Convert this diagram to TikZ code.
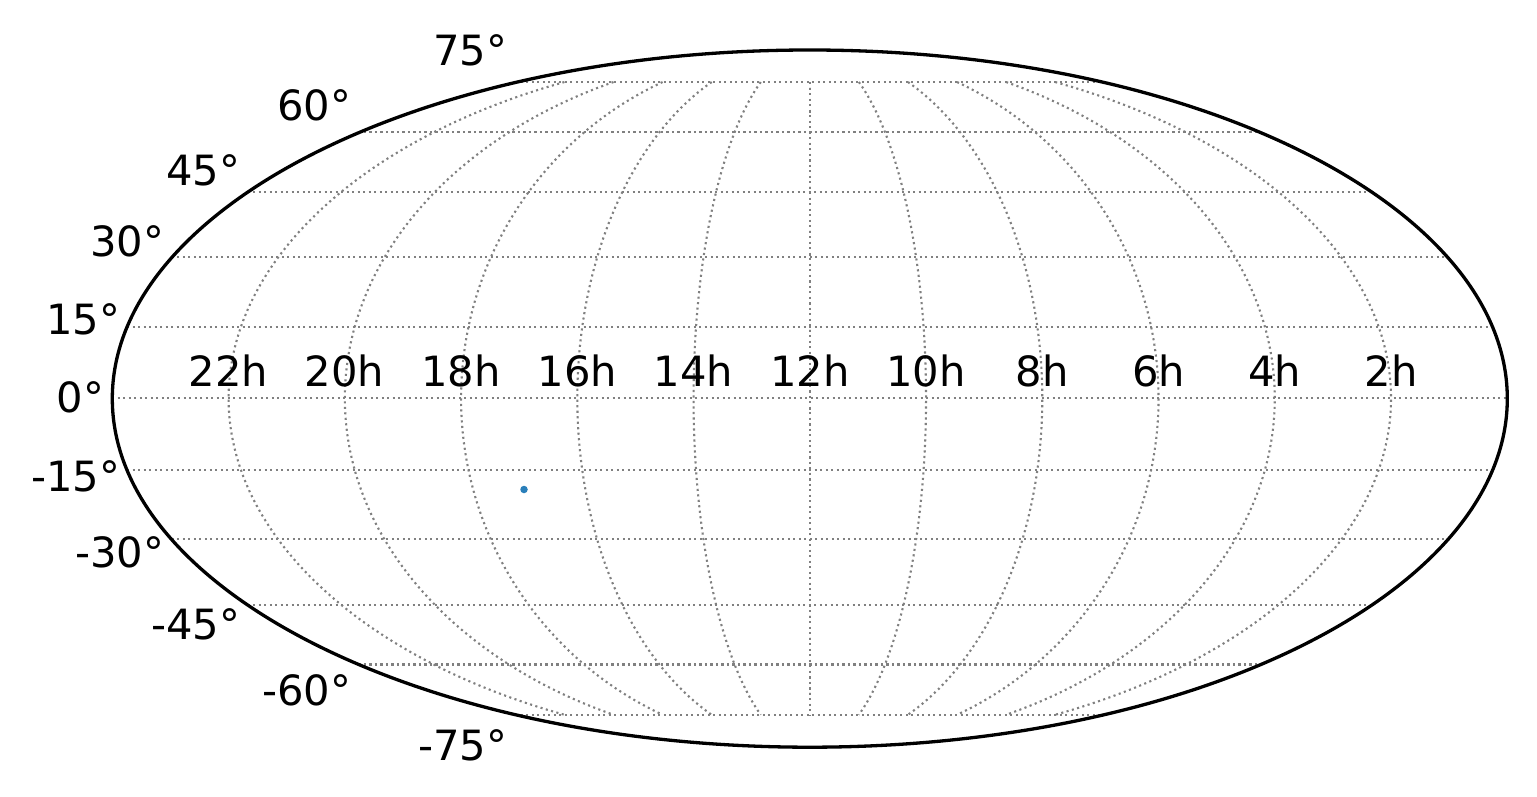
\documentclass[tikz,border=0pt]{standalone}
\usepackage{fontspec}
\setmainfont{DejaVu Sans}
\newcommand{\CX}{809.8}
\newcommand{\CY}{398.4}
\newcommand{\RA}{697.5}
\newcommand{\RB}{349}
\newcommand{\TMAX}{65.03}
\tikzset{
  frameline/.style={draw=black,line width=3.3pt},
  gridline/.style={draw=gridgray,line width=2.1pt,dash pattern=on 2.1pt off 3.4pt},
  ticklabel/.style={inner sep=0pt,font=\fontsize{41.67}{50}\selectfont},
  rightlabel/.style={ticklabel,anchor=east},
  lonlabel/.style={ticklabel,anchor=base},
  datapoint/.style={fill=dotblue,draw=none,circle,minimum size=7.5pt,inner sep=0pt}
}
\definecolor{gridgray}{HTML}{808080}
\definecolor{dotblue}{HTML}{2A7FBA}
\begin{document}
\begin{tikzpicture}[x=1pt,y=-1pt]
\useasboundingbox (0,0) rectangle (1537,797);
% parallels: sin(theta) values for 15..75 deg
\foreach \s in {0,0.2047,0.4040,0.5920,0.7624,0.9065}{
  \draw[gridline] ({\CX-\RA*sqrt(1-\s*\s)},{\CY-\RB*\s}) -- ({\CX+\RA*sqrt(1-\s*\s)},{\CY-\RB*\s});
  \draw[gridline] ({\CX-\RA*sqrt(1-\s*\s)},{\CY+\RB*\s}) -- ({\CX+\RA*sqrt(1-\s*\s)},{\CY+\RB*\s});
}
% meridians
\foreach \k in {-5,...,5}{
  \draw[gridline] plot[domain=-\TMAX:\TMAX,samples=61,smooth,variable=\t] ({\CX+\RA*\k/6*cos(\t)},{\CY+\RB*sin(\t)});
}
\draw[frameline] (\CX,\CY+0.2) ellipse [x radius=\RA,y radius=\RB-0.4];
\node[datapoint] (p) at (524,489.5) {};
\foreach \lab/\xx in {22h/228.5,20h/344.5,18h/461,16h/577.5,14h/693.5,12h/810,10h/926,8h/1042,6h/1158.5,4h/1274.5,2h/1391}{
  \node[lonlabel] (lon\lab) at (\xx,386) {\lab};
}
\node[rightlabel] (l75) at (507.5,50) {75°};
\node[rightlabel] (l60) at (351.5,105) {60°};
\node[rightlabel] (l45) at (240.5,170) {45°};
\node[rightlabel] (l30) at (164.5,241) {30°};
\node[rightlabel] (l15) at (120.5,319) {15°};
\node[rightlabel] (l0) at (104.5,397) {0°};
\node[rightlabel] (lm15) at (120.5,476) {-15°};
\node[rightlabel] (lm30) at (164.5,552) {-30°};
\node[rightlabel] (lm45) at (240.5,624) {-45°};
\node[rightlabel] (lm60) at (351.5,690) {-60°};
\node[rightlabel] (lm75) at (507.5,745) {-75°};
\end{tikzpicture}
\end{document}
